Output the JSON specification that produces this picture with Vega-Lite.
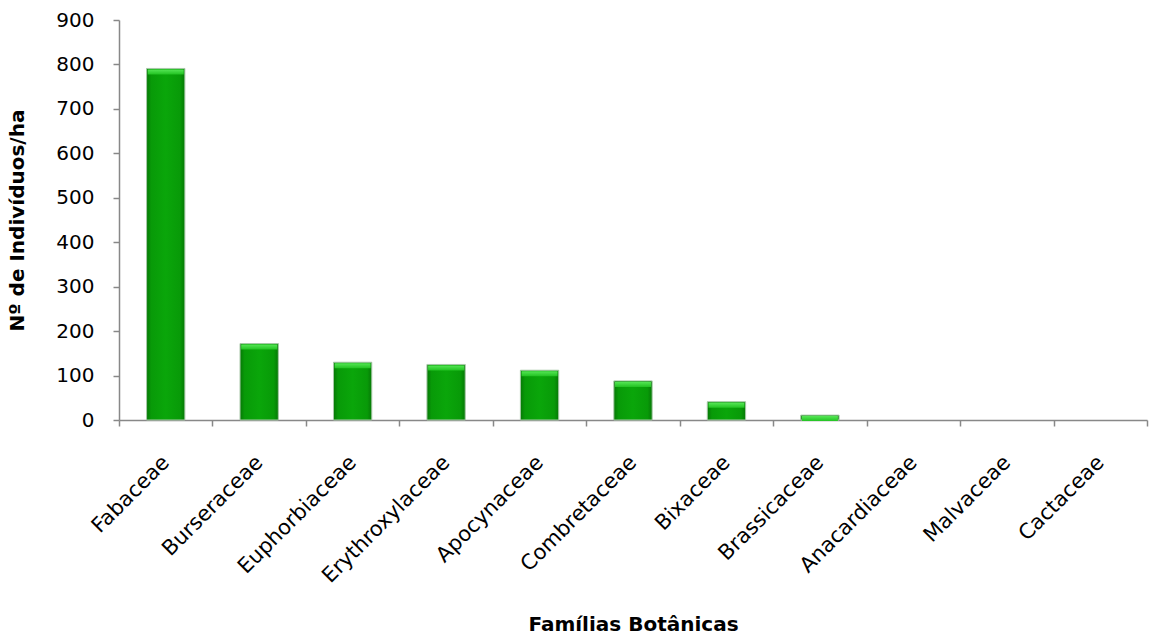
{
  "$schema": "https://vega.github.io/schema/vega-lite/v6.json",
  "width": 1028,
  "height": 400,
  "autosize": {"type": "none"},
  "padding": {"left": 119, "top": 20, "right": 2, "bottom": 219},
  "background": "white",
  "config": {
    "view": {"stroke": null},
    "font": "DejaVu Sans"
  },
  "data": {
    "values": [
      {"familia": "Fabaceae", "n": 791},
      {"familia": "Burseraceae", "n": 172},
      {"familia": "Euphorbiaceae", "n": 130},
      {"familia": "Erythroxylaceae", "n": 125},
      {"familia": "Apocynaceae", "n": 112},
      {"familia": "Combretaceae", "n": 88},
      {"familia": "Bixaceae", "n": 41},
      {"familia": "Brassicaceae", "n": 11},
      {"familia": "Anacardiaceae", "n": 0},
      {"familia": "Malvaceae", "n": 0},
      {"familia": "Cactaceae", "n": 0}
    ]
  },
  "encoding": {
    "x": {
      "field": "familia",
      "type": "nominal",
      "sort": null,
      "scale": {"paddingInner": 0, "paddingOuter": 0},
      "axis": {
        "title": "Famílias Botânicas",
        "titleFont": "DejaVu Sans",
        "titleFontSize": 20,
        "titleFontWeight": "bold",
        "titleColor": "#000000",
        "titlePadding": 28,
        "labelAngle": -45,
        "labelAlign": "right",
        "labelBaseline": "middle",
        "labelFont": "DejaVu Sans",
        "labelFontSize": 21,
        "labelColor": "#000000",
        "labelPadding": 33,
        "tickBand": "extent",
        "tickSize": 6,
        "tickColor": "#888888",
        "domainColor": "#888888",
        "domainWidth": 1.5,
        "tickWidth": 1.5,
        "grid": false
      }
    },
    "y": {
      "field": "n",
      "type": "quantitative",
      "scale": {"domain": [0, 900], "nice": false},
      "axis": {
        "title": "Nº de Indivíduos/ha",
        "titleFont": "DejaVu Sans",
        "titleFontSize": 20,
        "titleFontWeight": "bold",
        "titleColor": "#000000",
        "titlePadding": 28,
        "values": [0, 100, 200, 300, 400, 500, 600, 700, 800, 900],
        "labelFont": "DejaVu Sans",
        "labelFontSize": 20,
        "labelColor": "#000000",
        "labelPadding": 19,
        "tickSize": 6,
        "tickColor": "#888888",
        "domainColor": "#888888",
        "domainWidth": 1.5,
        "tickWidth": 1.5,
        "grid": false
      }
    }
  },
  "layer": [
    {
      "mark": {
        "type": "bar",
        "width": {"band": 0.41},
        "stroke": "#a8c8a8",
        "strokeWidth": 1,
        "fill": {
          "x1": 0, "y1": 0, "x2": 1, "y2": 0,
          "gradient": "linear",
          "stops": [
            {"offset": 0, "color": "#067806"},
            {"offset": 0.12, "color": "#089a08"},
            {"offset": 0.5, "color": "#0aa60a"},
            {"offset": 0.88, "color": "#089a08"},
            {"offset": 1, "color": "#067806"}
          ]
        }
      },
      "encoding": {
        "strokeOpacity": {"condition": {"test": "datum.n > 0", "value": 1}, "value": 0}
      }
    },
    {
      "mark": {
        "type": "tick",
        "orient": "horizontal",
        "size": 36,
        "thickness": 5,
        "yOffset": 3.5,
        "filled": true,
        "fill": {
          "x1": 0, "y1": 0, "x2": 0, "y2": 1,
          "gradient": "linear",
          "stops": [
            {"offset": 0, "color": "#55e655"},
            {"offset": 1, "color": "#22c222"}
          ]
        }
      },
      "encoding": {
        "opacity": {"condition": {"test": "datum.n > 0", "value": 1}, "value": 0}
      }
    }
  ]
}
